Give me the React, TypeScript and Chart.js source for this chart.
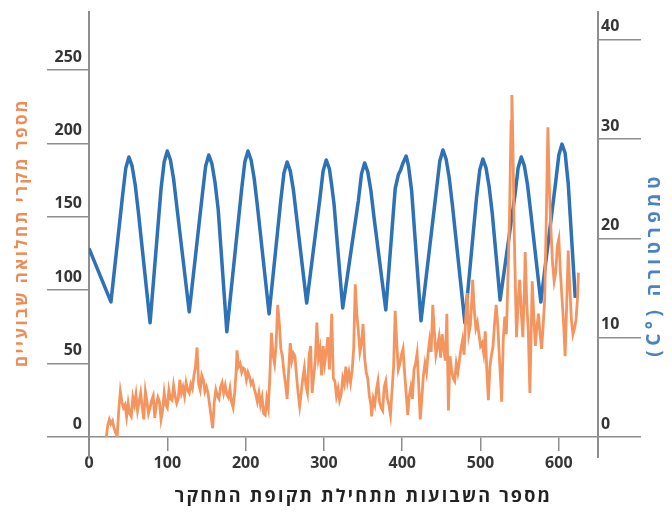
import React, { useEffect, useRef } from "react";
import { Chart, registerables } from "chart.js";

Chart.register(...registerables);

// ---------- data ----------
const xTickValues = [0, 100, 200, 300, 400, 500, 600];
const caseTickValues = [0, 50, 100, 150, 200, 250];
const tempTickValues = [0, 10, 20, 30, 40];

const X_TITLE = "מספר השבועות מתחילת תקופת המחקר";
const CASES_TITLE = "מספר מקרי תחלואה שבועיים";
const TEMP_TITLE = "טמפרטורה (°C)";

// weekly temperature (°C)
const tempWeeks = [
  0, 28,
  43, 47, 51, 55, 59, 63, 78,
  92, 96, 100, 104, 108, 112, 128,
  145, 149, 153, 157, 161, 165, 176,
  195, 199, 203, 207, 211, 215, 230,
  245, 249, 253, 257, 261, 265, 278,
  295, 299, 303, 307, 310, 313, 316, 324,
  344, 348, 352, 356, 360, 364, 379,
  391, 395, 398, 401, 405, 408, 412, 424,
  444, 448, 452, 456, 460, 464, 480,
  495, 499, 503, 507, 511, 515, 525,
  544, 548, 552, 556, 560, 564, 577,
  596, 600, 604, 608, 612, 621,
];
const tempValues = [
  19.0, 13.6,
  24.4, 27.1, 28.2, 27.3, 25.4, 22.7, 11.5,
  25.0, 27.7, 28.8, 27.9, 26.0, 23.3, 12.6,
  24.6, 27.3, 28.4, 27.5, 25.6, 22.9, 10.6,
  25.0, 27.7, 28.8, 27.9, 26.0, 23.3, 12.4,
  23.9, 26.6, 27.7, 26.8, 24.9, 22.2, 13.5,
  24.1, 26.8, 27.9, 27.0, 25.3, 23.4, 20.5, 13.0,
  23.8, 26.5, 27.6, 26.7, 24.8, 22.1, 12.8,
  25.0, 26.4, 26.9, 27.6, 28.3, 27.3, 24.8, 11.7,
  25.1, 27.8, 28.9, 28.0, 26.1, 23.4, 11.5,
  24.2, 26.9, 28.0, 27.1, 25.2, 22.5, 13.8,
  24.4, 27.1, 28.2, 27.3, 25.4, 22.7, 13.6,
  25.7, 28.4, 29.5, 28.6, 25.5, 14.0,
];

// weekly disease cases
const caseWeeks = [
  22, 24, 26, 28, 30, 32, 34, 36, 38, 40,
  42, 44, 46, 48, 50, 52, 54, 56, 58, 60,
  62, 64, 66, 68, 70, 72, 74, 76, 78, 80,
  82, 84, 86, 88, 90, 92, 94, 96, 98, 100,
  102, 104, 106, 108, 110, 112, 114, 116, 118, 120,
  122, 124, 126, 128, 130, 132, 134, 136, 138, 140,
  142, 144, 146, 148, 150, 152, 154, 156, 158, 160,
  162, 164, 166, 168, 170, 172, 174, 176, 178, 180,
  182, 184, 186, 188, 189, 191, 193, 195, 197, 199,
  201, 203, 205, 207, 209, 211, 213, 215, 217, 219,
  221, 223, 225, 227, 229, 231, 233, 235, 237, 239,
  241, 243, 245, 247, 249, 251, 253, 255, 257, 259,
  261, 263, 265, 267, 269, 271, 273, 275, 277, 279,
  281, 283, 285, 287, 289, 291, 293, 295, 297, 299,
  301, 303, 305, 307, 309, 310, 312, 314, 316, 318,
  320, 322, 324, 326, 328, 330, 332, 334, 336, 338,
  340, 342, 344, 346, 348, 350, 352, 354, 356, 358,
  360, 361, 363, 365, 367, 369, 371, 373, 375, 377,
  379, 381, 383, 385, 387, 389, 391, 393, 395, 397,
  399, 401, 403, 405, 407, 409, 411, 413, 415, 417,
  419, 421, 423, 425, 427, 429, 431, 433, 435, 437,
  439, 441, 443, 445, 447, 449, 451, 453, 455, 457,
  459, 461, 463, 465, 467, 469, 471, 473, 475, 477,
  479, 481, 483, 485, 487, 489, 490, 492, 494, 496,
  498, 500, 502, 504, 506, 508, 510, 512, 514, 516,
  518, 520, 522, 524, 526, 527, 529, 531, 533, 535,
  537, 539, 540, 541, 543, 545, 546, 548, 550, 552,
  554, 556, 557, 559, 561, 563, 565, 566, 568, 570,
  572, 574, 576, 578, 580, 582, 584, 586, 588, 590,
  592, 594, 596, 598, 600, 602, 604, 606, 608, 610,
  612, 614, 616, 618, 620, 622, 624, 625,
];
const caseValues = [
  0, 8, 12, 9, 11, 6, 3, 1, 18, 31,
  24, 20, 22, 14, 23, 16, 14, 27, 22, 29,
  18, 24, 30, 20, 12, 31, 24, 16, 20, 25,
  28, 13, 22, 27, 24, 12, 18, 30, 22, 20,
  32, 26, 25, 35, 28, 23, 26, 39, 30, 34,
  28, 37, 32, 30, 36, 33, 42, 48, 61, 36,
  32, 42, 39, 31, 34, 30, 22, 14, 6, 24,
  32, 28, 26, 34, 37, 30, 35, 29, 27, 33,
  24, 20, 30, 45, 59, 48, 50, 44, 47, 46,
  39, 44, 41, 36, 38, 33, 29, 24, 30, 22,
  27, 16, 15, 26, 20, 42, 71, 56, 50, 64,
  90, 78, 60, 55, 44, 36, 26, 45, 64, 52,
  57, 55, 42, 30, 21, 30, 40, 47, 35, 30,
  55, 62, 30, 42, 52, 78, 54, 60, 42, 62,
  50, 58, 68, 46, 70, 84, 40, 38, 28, 33,
  25, 29, 40, 36, 48, 38, 44, 37, 45, 60,
  104, 84, 72, 58, 64, 77, 54, 44, 40, 28,
  22, 14, 26, 22, 32, 38, 24, 20, 18, 34,
  38, 26, 22, 15, 32, 48, 86, 64, 46, 50,
  56, 60, 44, 30, 15, 28, 34, 26, 46, 50,
  57, 36, 12, 26, 42, 50, 44, 57, 66, 58,
  90, 72, 56, 62, 68, 54, 70, 60, 52, 84,
  18, 55, 46, 40, 38, 50, 44, 52, 60, 66,
  56, 80, 98, 70, 76, 95, 107, 86, 74, 78,
  70, 62, 64, 57, 72, 46, 25, 48, 56, 62,
  78, 90, 76, 55, 35, 24, 66, 82, 70, 108,
  150, 215, 233, 210, 140, 90, 68, 92, 107, 85,
  68, 100, 126, 92, 72, 30, 80, 106, 82, 62,
  75, 84, 70, 60, 76, 95, 150, 211, 168, 140,
  118, 106, 112, 130, 135, 112, 95, 78, 55, 90,
  127, 102, 80, 70, 74, 80, 96, 112,
];

// ---------- styles ----------
const ORANGE = "#f4955f";
const ORANGE_TEXT = "#ef8c55";
const BLUE = "#2d71b7";
const BLUE_TEXT = "#4a82c3";
const AXIS = "#8e8e8e";
const TICK_TEXT = "#353535";
const FONT = '"Open Sans", "DejaVu Sans", sans-serif';

const decorPlugin = {
  id: "decor",
  afterDraw(chart: any) {
    const { ctx, chartArea } = chart;
    const { left, right, top, bottom } = chartArea;
    ctx.save();
    // axis line extensions below the baseline
    ctx.strokeStyle = AXIS;
    ctx.lineWidth = 2;
    ctx.beginPath();
    ctx.moveTo(left, bottom);
    ctx.lineTo(left, bottom + 21);
    ctx.moveTo(right, bottom);
    ctx.lineTo(right, bottom + 21);
    ctx.stroke();

    const rotated = (text: string, x: number, y: number, color: string, size: number, spacing: number) => {
      ctx.save();
      ctx.translate(x, y);
      ctx.rotate(-Math.PI / 2);
      ctx.font = `bold ${size}px ${FONT}`;
      ctx.fillStyle = color;
      ctx.textAlign = "center";
      ctx.textBaseline = "middle";
      ctx.direction = "rtl";
      (ctx as any).letterSpacing = `${spacing}px`;
      ctx.fillText(text, 0, 0);
      ctx.restore();
    };
    const midY = (top + bottom) / 2;
    rotated(CASES_TITLE, left - 67, midY + 8, ORANGE_TEXT, 17, 2.4);
    rotated(TEMP_TITLE, right + 57, midY + 40, BLUE_TEXT, 19, 4.5);

    ctx.save();
    ctx.font = `bold 18px ${FONT}`;
    ctx.fillStyle = "#222222";
    ctx.textAlign = "center";
    ctx.textBaseline = "middle";
    ctx.direction = "rtl";
    (ctx as any).letterSpacing = "2.2px";
    ctx.fillText(X_TITLE, (left + right) / 2 + 20, bottom + 60);
    ctx.restore();
    ctx.restore();
  },
};

export default function App() {
  const canvasRef = useRef<HTMLCanvasElement | null>(null);

  useEffect(() => {
    const canvas = canvasRef.current;
    if (!canvas) return;
    const tickFont = { family: FONT, size: 16, weight: "bold" as const };

    const chart = new Chart(canvas, {
      type: "line",
      data: {
        datasets: [
          {
            label: CASES_TITLE,
            data: caseWeeks.map((w, i) => ({ x: w, y: caseValues[i] })),
            yAxisID: "yCases",
            borderColor: ORANGE,
            borderWidth: 2.8,
            pointRadius: 0,
            tension: 0,
            fill: false,
          },
          {
            label: TEMP_TITLE,
            data: tempWeeks.map((w, i) => ({ x: w, y: tempValues[i] })),
            yAxisID: "yTemp",
            borderColor: BLUE,
            borderWidth: 3.5,
            borderJoinStyle: "round",
            pointRadius: 0,
            tension: 0,
            fill: false,
          },
        ],
      },
      options: {
        animation: false,
        responsive: true,
        maintainAspectRatio: false,
        layout: { padding: { top: 12, left: 0, right: 0, bottom: 0 } },
        plugins: {
          legend: { display: false },
          tooltip: { enabled: false },
        },
        scales: {
          x: {
            type: "linear",
            min: 0,
            max: 650,
            afterBuildTicks: (s: any) => {
              s.ticks = xTickValues.map((v) => ({ value: v }));
            },
            afterFit: (s: any) => {
              s.height = 81;
            },
            ticks: { color: TICK_TEXT, font: tickFont, padding: 3, maxRotation: 0, autoSkip: false },
            grid: { drawOnChartArea: false, drawTicks: true, tickLength: 14, color: AXIS, lineWidth: 1.5 },
            border: { display: true, color: AXIS, width: 1.5 },
            title: { display: false, text: X_TITLE },
          },
          yCases: {
            type: "linear",
            position: "left",
            min: 0,
            max: 289.5,
            afterBuildTicks: (s: any) => {
              s.ticks = caseTickValues.map((v) => ({ value: v }));
            },
            afterFit: (s: any) => {
              s.width = 89;
            },
            ticks: { color: TICK_TEXT, font: tickFont, padding: -35, labelOffset: -13 },
            grid: { drawOnChartArea: false, drawTicks: true, tickLength: 42, color: AXIS, lineWidth: 1.5 },
            border: { display: true, color: AXIS, width: 2 },
            title: { display: false, text: CASES_TITLE },
          },
          yTemp: {
            type: "linear",
            position: "right",
            min: 0,
            max: 42.8,
            afterBuildTicks: (s: any) => {
              s.ticks = tempTickValues.map((v) => ({ value: v }));
            },
            afterFit: (s: any) => {
              s.width = 74;
            },
            ticks: { color: TICK_TEXT, font: tickFont, padding: -40, labelOffset: -13 },
            grid: { drawOnChartArea: false, drawTicks: true, tickLength: 43, color: AXIS, lineWidth: 1.5 },
            border: { display: true, color: AXIS, width: 2 },
            title: { display: false, text: TEMP_TITLE },
          },
        },
      },
      plugins: [decorPlugin],
    });

    return () => chart.destroy();
  }, []);

  return (
    <div style={{ position: "fixed", left: 0, top: 0, width: 672, height: 518, background: "#ffffff" }}>
      <canvas ref={canvasRef} />
    </div>
  );
}
